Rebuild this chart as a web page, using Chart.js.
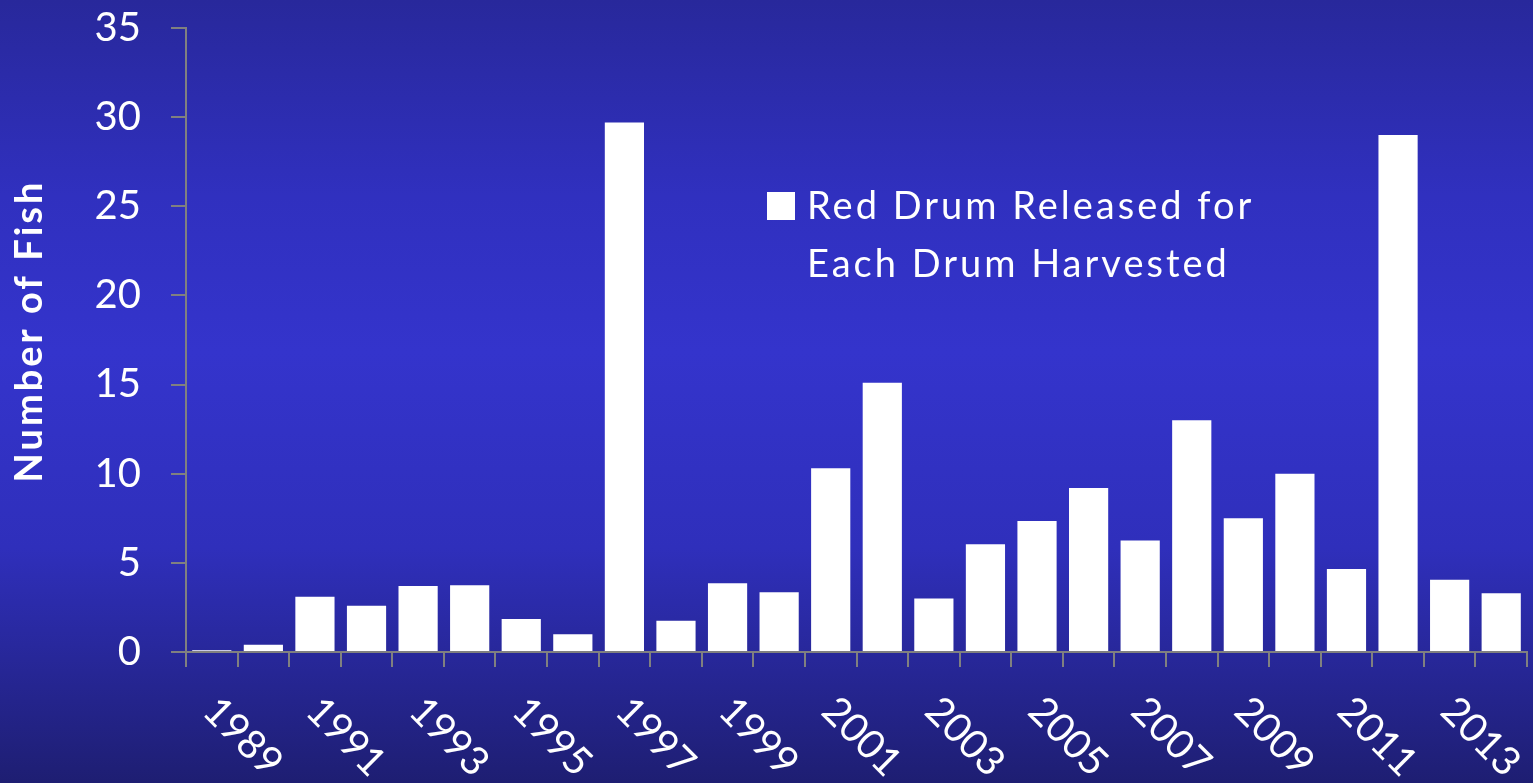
<!DOCTYPE html>
<html>
<head>
<meta charset="utf-8">
<script src="https://cdn.jsdelivr.net/npm/chart.js@4"></script>
<style>
    html, body { margin: 0; padding: 0; }
    body {
        width: 1533px;
        height: 783px;
        overflow: hidden;
        background: linear-gradient(to bottom, #28289b 0%, #3030bf 25%, #3434cc 45%, #2f2fbb 70%, #1e1e72 100%);
    }
    #wrap { position: relative; width: 1533px; height: 783px; }
</style>
</head>
<body>
<div id="wrap"><canvas id="drumChart" width="1533" height="783"></canvas></div>
<script>
const years = ['1989', '1990', '1991', '1992', '1993', '1994', '1995', '1996', '1997', '1998', '1999', '2000', '2001',
    '2002', '2003', '2004', '2005', '2006', '2007', '2008', '2009', '2010', '2011', '2012', '2013', '2014'];
const releasedPerHarvested = [0.1, 0.4, 3.1, 2.6, 3.7, 3.75, 1.85, 1.0, 29.7, 1.75, 3.85, 3.35, 10.3,
    15.1, 3.0, 6.05, 7.35, 9.2, 6.25, 13.0, 7.5, 10.0, 4.65, 29.0, 4.05, 3.3];
const seriesLabel = ['Red Drum Released for', 'Each Drum Harvested'];
const yTitle = 'Number of Fish';
const yMax = 35;
const yStep = 5;

const font = 'Lato, "Open Sans", sans-serif';
const axisGray = '#808080';

// x labels sit rotated downward (clockwise), every other year
const slantedLabels = {
    id: 'slantedLabels',
    afterDraw(chart) {
        const { ctx, scales: { x } } = chart;
        ctx.save();
        ctx.fillStyle = '#ffffff';
        ctx.font = `40px ${font}`;
        ctx.textAlign = 'left';
        ctx.textBaseline = 'middle';
        years.forEach((yr, i) => {
            if (i % 2 !== 0) return;
            const cx = x.getPixelForValue(i);
            ctx.save();
            ctx.translate(cx - 2, x.top + 52);
            ctx.rotate(Math.PI / 4);
            ctx.fillText(yr, 0, 0);
            ctx.restore();
        });
        ctx.restore();
    }
};

// legend box + wrapped label, and the y title (both a bit letter-spaced like the original)
const boxLegend = {
    id: 'boxLegend',
    afterDraw(chart) {
        const { ctx, scales: { y } } = chart;
        ctx.save();
        ctx.fillStyle = '#ffffff';
        ctx.letterSpacing = '3px';
        ctx.fillRect(767, 192, 28, 28);
        ctx.font = `38px ${font}`;
        ctx.textAlign = 'left';
        ctx.textBaseline = 'alphabetic';
        seriesLabel.forEach((line, i) => {
            ctx.fillText(line, 807, 219 + i * 58);
        });

        ctx.font = `bold 38px ${font}`;
        ctx.textAlign = 'center';
        ctx.textBaseline = 'middle';
        ctx.translate(30, (y.top + y.bottom) / 2 - 9);
        ctx.rotate(-Math.PI / 2);
        ctx.fillText(yTitle, 0, 0);
        ctx.restore();
    }
};

new Chart(document.getElementById('drumChart').getContext('2d'), {
    type: 'bar',
    data: {
        labels: years,
        datasets: [{
            label: seriesLabel.join(' '),
            data: releasedPerHarvested,
            backgroundColor: '#ffffff',
            borderWidth: 0,
            barPercentage: 0.76,
            categoryPercentage: 1.0
        }]
    },
    options: {
        responsive: false,
        animation: false,
        layout: { padding: { top: 28, right: 6, left: 0, bottom: 0 } },
        plugins: {
            legend: { display: false },
            tooltip: { enabled: false }
        },
        scales: {
            x: {
                grid: {
                    display: true,
                    offset: true,
                    drawOnChartArea: false,
                    drawTicks: true,
                    tickLength: 15,
                    color: axisGray,
                    lineWidth: 2
                },
                border: { color: axisGray, width: 2 },
                ticks: { display: false },
                afterFit: (scale) => { scale.height = 783 - 652; }
            },
            y: {
                min: 0,
                max: yMax,
                grid: {
                    display: true,
                    drawOnChartArea: false,
                    drawTicks: true,
                    tickLength: 15,
                    color: axisGray,
                    lineWidth: 2
                },
                border: { color: axisGray, width: 2 },
                ticks: {
                    stepSize: yStep,
                    color: '#ffffff',
                    padding: 30,
                    font: { family: font, size: 40 }
                },
                afterFit: (scale) => {
                    scale.width = 186;
                    scale.paddingTop = 0;
                    scale.paddingBottom = 0;
                }
            }
        }
    },
    plugins: [slantedLabels, boxLegend]
});
</script>
</body>
</html>
